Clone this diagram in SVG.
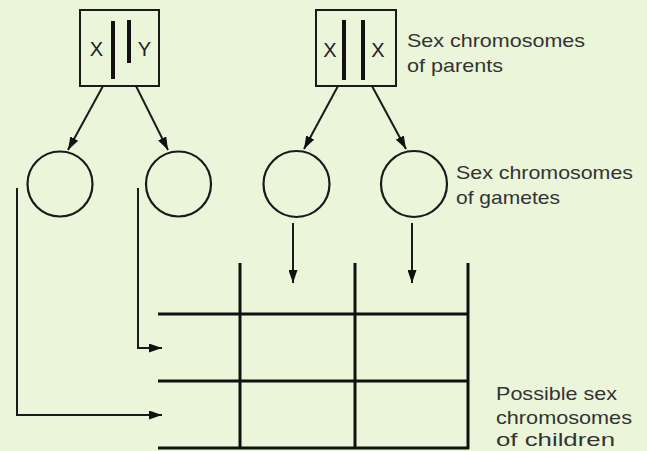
<svg xmlns="http://www.w3.org/2000/svg" width="647" height="451" viewBox="0 0 647 451">
  <style>
    .bg { fill: #eaf5da; }
    .box { fill: none; stroke: #1a1a1a; stroke-width: 2; }
    .chrom { stroke: #111; stroke-width: 4; stroke-linecap: butt; }
    .gamete { fill: none; stroke: #1a1a1a; stroke-width: 2.2; }
    .link { fill: none; stroke: #1a1a1a; stroke-width: 2; }
    .grid { fill: none; stroke: #111; stroke-width: 3; }
    .lbl { font-family: "Liberation Sans", Arial, sans-serif; font-size: 18.5px; fill: #333; }
    .sym { font-family: "Liberation Sans", Arial, sans-serif; font-size: 20px; fill: #222; text-anchor: middle; }
  </style>
  <defs>
    <marker id="arrow" viewBox="0 0 13 9" refX="13" refY="4.5" markerWidth="13" markerHeight="9" markerUnits="userSpaceOnUse" orient="auto">
      <path d="M0,0 L13,4.5 L0,9 Z" fill="#111"/>
    </marker>
  </defs>

  <rect class="bg" x="0" y="0" width="647" height="451"/>

  <!-- parent: father (X, Y) -->
  <g id="parent-xy">
    <rect class="box" x="80" y="10" width="79" height="76"/>
    <line class="chrom" x1="113" y1="21" x2="113" y2="79"/>
    <line class="chrom" x1="129" y1="20" x2="129" y2="63"/>
    <text class="sym" x="96.5" y="56">X</text>
    <text class="sym" x="144.5" y="56">Y</text>
  </g>

  <!-- parent: mother (X, X) -->
  <g id="parent-xx">
    <rect class="box" x="316" y="10" width="80" height="76"/>
    <line class="chrom" x1="344" y1="20" x2="344" y2="80"/>
    <line class="chrom" x1="363" y1="20" x2="363" y2="80"/>
    <text class="sym" x="330" y="57">X</text>
    <text class="sym" x="378" y="57">X</text>
  </g>

  <!-- gametes -->
  <g id="gamete-1"><circle class="gamete" cx="60" cy="184" r="32.5"/></g>
  <g id="gamete-2"><circle class="gamete" cx="178.5" cy="184" r="32.5"/></g>
  <g id="gamete-3"><circle class="gamete" cx="296.5" cy="184" r="33"/></g>
  <g id="gamete-4"><circle class="gamete" cx="414" cy="184" r="33"/></g>

  <!-- offspring grid -->
  <g id="punnett-grid">
    <line class="grid" x1="240" y1="263" x2="240" y2="449"/>
    <line class="grid" x1="355" y1="263" x2="355" y2="449"/>
    <line class="grid" x1="468" y1="263" x2="468" y2="449"/>
    <line class="grid" x1="158" y1="314" x2="469" y2="314"/>
    <line class="grid" x1="158" y1="381" x2="469" y2="381"/>
    <line class="grid" x1="158" y1="448" x2="469" y2="448"/>
  </g>

  <!-- connectors -->
  <g id="connectors">
    <line class="link" x1="103" y1="86" x2="68" y2="150" marker-end="url(#arrow)"/>
    <line class="link" x1="136" y1="86" x2="168" y2="150" marker-end="url(#arrow)"/>
    <line class="link" x1="338" y1="86" x2="304" y2="149" marker-end="url(#arrow)"/>
    <line class="link" x1="372" y1="86" x2="406" y2="149" marker-end="url(#arrow)"/>
    <line class="link" x1="293" y1="223" x2="293" y2="283" marker-end="url(#arrow)"/>
    <line class="link" x1="412" y1="223" x2="412" y2="283" marker-end="url(#arrow)"/>
    <polyline class="link" points="138,188 138,348 162,348" marker-end="url(#arrow)"/>
    <polyline class="link" points="17,188 17,415 162,415" marker-end="url(#arrow)"/>
  </g>

  <!-- labels -->
  <g id="label-parents">
    <text class="lbl" x="407" y="47" textLength="178" lengthAdjust="spacingAndGlyphs">Sex chromosomes</text>
    <text class="lbl" x="407" y="72" textLength="96" lengthAdjust="spacingAndGlyphs">of parents</text>
  </g>
  <g id="label-gametes">
    <text class="lbl" x="456" y="179" textLength="177" lengthAdjust="spacingAndGlyphs">Sex chromosomes</text>
    <text class="lbl" x="456" y="204" textLength="104" lengthAdjust="spacingAndGlyphs">of gametes</text>
  </g>
  <g id="label-children">
    <text class="lbl" x="496" y="400" textLength="121" lengthAdjust="spacingAndGlyphs">Possible sex</text>
    <text class="lbl" x="496" y="424" textLength="136" lengthAdjust="spacingAndGlyphs">chromosomes</text>
    <text class="lbl" x="496" y="446" textLength="119" lengthAdjust="spacingAndGlyphs">of children</text>
  </g>
</svg>
